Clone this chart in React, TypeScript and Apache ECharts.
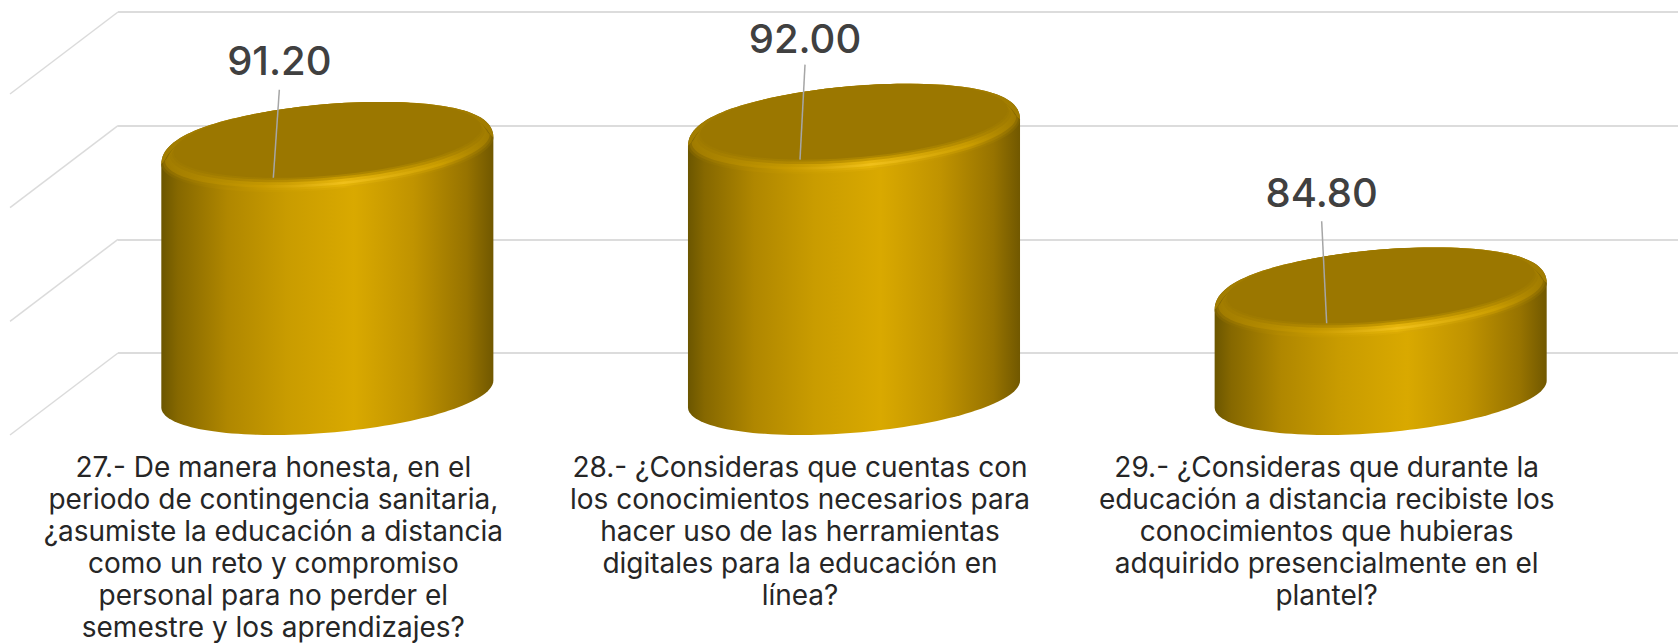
import React, { useEffect, useRef } from "react";
import * as echarts from "echarts";

const categories = [
  "27.- De manera honesta, en el\nperiodo de contingencia sanitaria,\n¿asumiste la educación a distancia\ncomo un reto y compromiso\npersonal para no perder el\nsemestre y los aprendizajes?",
  "28.- ¿Consideras que cuentas con\nlos conocimientos necesarios para\nhacer uso de las herramientas\ndigitales para la educación en\nlínea?",
  "29.- ¿Consideras que durante la\neducación a distancia recibiste los\nconocimientos que hubieras\nadquirido presencialmente en el\nplantel?",
];
const scores = [91.2, 92.0, 84.8];
const wallTicks = [80, 85, 90, 95];

// Value axis range shared by the floor plane and the back wall.
const AXIS_MIN = 80;
const AXIS_MAX = 95;
const AXIS_STEP = 5;

// Oblique projection: the back wall sits this far from the front plane.
const DEPTH_X = 108;
const DEPTH_Y = 82;
const PLANE_LEFT = 10;
const PLANE_WIDTH = 1580;
const PLANE_HEIGHT = 341;
const BACK_TOP = 12;

// Cylinder cross-section: a circle on the floor, sheared by the depth vector.
const RADIUS_X = 157;
const SHEAR_X = DEPTH_X / 2;
const SHEAR_Y = DEPTH_Y / 2;
const TOP_DROP = 3.5;
const SHOULDER = 8;
const FACE_LIFT = 3;
const FACE_SCALE = 0.925;

// Leader lines between each top face and its value label.
const leaderLean = [6, 5, -5];
const leaderRise = [88, 95, 102];
const labelGap = [29, 26, 29];

const TEXT_FONT = "Inter, 'Noto Sans', sans-serif";

type Pt = [number, number];

const ellipsePoint = (cx: number, cy: number, k: number, t: number): Pt => [
  cx + k * (RADIUS_X * Math.cos(t) + SHEAR_X * Math.sin(t)),
  cy - k * SHEAR_Y * Math.sin(t),
];

// Angles of the left and right silhouette tangents of the sheared circle.
const T_RIGHT = Math.atan2(SHEAR_X, RADIUS_X);
const T_LEFT = T_RIGHT + Math.PI;
const T_RIGHT_WRAP = T_RIGHT + Math.PI * 2;

const arc = (cx: number, cy: number, k: number, from: number, to: number, n = 72): Pt[] => {
  const pts: Pt[] = [];
  for (let i = 0; i <= n; i++) {
    pts.push(ellipsePoint(cx, cy, k, from + ((to - from) * i) / n));
  }
  return pts;
};

// Rear half of a rounded rim: meets the side edges at (cy + drop, k) and eases to (cy, kBack).
const rearArc = (cx: number, cy: number, k: number, kBack: number, drop: number, n = 72): Pt[] => {
  const pts: Pt[] = [];
  for (let i = 0; i <= n; i++) {
    const t = T_RIGHT + (Math.PI * i) / n;
    const s = Math.sin(t - T_RIGHT);
    const [x, y] = ellipsePoint(cx, cy, k + (kBack - k) * Math.sqrt(s), t);
    pts.push([x, y + drop * Math.pow(1 - s, 3)]);
  }
  return pts;
};

const grad = (x2: number, y2: number, stops: [number, string][]) =>
  new echarts.graphic.LinearGradient(
    0,
    0,
    x2,
    y2,
    stops.map(([offset, color]) => ({ offset, color })),
  );

const bodyStops: [number, string][] = [
  [0, "#6b5600"],
  [0.05, "#866800"],
  [0.2, "#b08700"],
  [0.38, "#c99c00"],
  [0.58, "#d9a900"],
  [0.76, "#c09300"],
  [0.92, "#977300"],
  [1, "#715800"],
];

// Rounded rim, from the body edge inward: lit in the middle, darker at both sides.
const rimBands: { t: number; stops: [number, string][] }[] = [
  {
    t: 0,
    stops: [
      [0, "#7c6100"],
      [0.2, "#b48a00"],
      [0.38, "#cb9e00"],
      [0.55, "#dcab04"],
      [0.76, "#c29500"],
      [0.92, "#9c7800"],
      [1, "#7c6100"],
    ],
  },
  {
    t: 0.14,
    stops: [
      [0, "#8c6c00"],
      [0.3, "#c59800"],
      [0.55, "#e4b408"],
      [0.85, "#bd9100"],
      [1, "#8c6c00"],
    ],
  },
  {
    t: 0.3,
    stops: [
      [0, "#a07b00"],
      [0.3, "#c99b00"],
      [0.55, "#f0c01a"],
      [0.85, "#cc9e00"],
      [1, "#a07b00"],
    ],
  },
  {
    t: 0.48,
    stops: [
      [0, "#a27d00"],
      [0.3, "#c39700"],
      [0.55, "#e6b50c"],
      [0.85, "#c69900"],
      [1, "#a27d00"],
    ],
  },
  {
    t: 0.68,
    stops: [
      [0, "#a07b00"],
      [0.3, "#b18800"],
      [0.55, "#c89b00"],
      [0.85, "#b38a00"],
      [1, "#a07b00"],
    ],
  },
  {
    t: 0.86,
    stops: [
      [0, "#9d7900"],
      [0.3, "#a37e00"],
      [0.55, "#ac8500"],
      [0.85, "#a58000"],
      [1, "#9d7900"],
    ],
  },
];

function renderCylinder(params: any, api: any) {
  const i = params.dataIndex;
  const value = api.value(1);
  const top = api.coord([i, value]);
  const base = api.coord([i, AXIS_MIN]);
  const cx = top[0] + SHEAR_X;
  const cyTop = top[1] - SHEAR_Y + TOP_DROP;
  const cyBase = base[1] - SHEAR_Y;

  const body = [
    ...rearArc(cx, cyTop, 1, 1, SHOULDER),
    ...arc(cx, cyBase, 1, T_LEFT, T_RIGHT_WRAP),
  ];
  // Back of the cap, just outside the flat face; the front is covered by the rim bands.
  const cap = [
    ...rearArc(cx, cyTop, 1, 1, SHOULDER),
    ...arc(cx, cyTop, FACE_SCALE, T_LEFT, T_RIGHT_WRAP),
  ];
  const faceY = cyTop - FACE_LIFT;
  const face = arc(cx, faceY, FACE_SCALE, 0, Math.PI * 2, 144);

  // Stacked front crescents that step from the body edge to the flat face.
  const rims = rimBands.map((band) => {
    const k = 1 - (1 - FACE_SCALE) * band.t;
    const drop = SHOULDER - (SHOULDER + FACE_LIFT) * band.t;
    return {
      type: "polygon",
      shape: {
        points: [
          ...rearArc(cx, cyTop, k, FACE_SCALE, drop),
          ...arc(cx, cyTop + drop, k, T_LEFT, T_RIGHT_WRAP),
        ],
      },
      style: { fill: grad(1, 0, band.stops) },
    };
  });

  const tip: Pt = [cx - SHEAR_X, faceY + FACE_SCALE * SHEAR_Y];
  const lead: Pt = [tip[0] + leaderLean[i], tip[1] - leaderRise[i]];

  return {
    type: "group",
    children: [
      { type: "polygon", shape: { points: body }, style: { fill: grad(1, 0, bodyStops) } },
      { type: "polygon", shape: { points: cap }, style: { fill: "#a27d00" } },
      ...rims,
      { type: "polygon", shape: { points: face }, style: { fill: "#9b7700" } },
      {
        type: "line",
        shape: { x1: tip[0], y1: tip[1], x2: lead[0], y2: lead[1] },
        style: { stroke: "#a6a6a6", lineWidth: 1.5 },
      },
      {
        type: "text",
        style: {
          x: lead[0],
          y: lead[1] - labelGap[i],
          text: value.toFixed(2),
          fill: "#404040",
          font: `500 40px ${TEXT_FONT}`,
          textAlign: "center",
          textVerticalAlign: "middle",
        },
      },
    ],
  };
}

// Slanted floor-to-wall lines running from the wall's left edge to the front plane.
function renderSideWall(params: any, api: any) {
  const y = api.coord([0, api.value(0)])[1];
  const x = params.coordSys.x;
  return {
    type: "line",
    shape: { x1: x, y1: y, x2: x - DEPTH_X, y2: y + DEPTH_Y },
    style: { stroke: "#dbdbdb", lineWidth: 1.5 },
  };
}

export default function App() {
  const ref = useRef<HTMLDivElement>(null);

  useEffect(() => {
    const chart = echarts.init(ref.current!, undefined, { renderer: "svg" });
    chart.setOption({
      animation: false,
      backgroundColor: "#ffffff",
      grid: [
        {
          left: PLANE_LEFT,
          top: BACK_TOP + DEPTH_Y,
          width: PLANE_WIDTH,
          height: PLANE_HEIGHT,
          outerBoundsMode: "none",
        },
        {
          left: PLANE_LEFT + DEPTH_X,
          top: BACK_TOP,
          width: PLANE_WIDTH,
          height: PLANE_HEIGHT,
          outerBoundsMode: "none",
        },
      ],
      xAxis: [
        {
          gridIndex: 0,
          type: "category",
          data: categories,
          axisLine: { show: false },
          axisTick: { show: false },
          axisLabel: {
            interval: 0,
            margin: 16,
            color: "#262626",
            fontFamily: TEXT_FONT,
            fontSize: 28,
            lineHeight: 32,
            align: "center",
            verticalAlign: "top",
          },
        },
        {
          gridIndex: 1,
          type: "category",
          data: categories,
          axisLine: { show: false },
          axisTick: { show: false },
          axisLabel: { show: false },
        },
      ],
      yAxis: [
        {
          gridIndex: 0,
          type: "value",
          min: AXIS_MIN,
          max: AXIS_MAX,
          interval: AXIS_STEP,
          show: false,
        },
        {
          gridIndex: 1,
          type: "value",
          min: AXIS_MIN,
          max: AXIS_MAX,
          interval: AXIS_STEP,
          axisLine: { show: false },
          axisTick: { show: false },
          axisLabel: { show: false },
          splitLine: { show: true, lineStyle: { color: "#dcdcdc", width: 2 } },
        },
      ],
      series: [
        {
          type: "custom",
          name: "Pared",
          xAxisIndex: 1,
          yAxisIndex: 1,
          clip: false,
          silent: true,
          encode: { y: 0 },
          data: wallTicks.map((t) => [t]),
          renderItem: renderSideWall,
          z: 1,
        },
        {
          type: "custom",
          name: "Promedio",
          xAxisIndex: 0,
          yAxisIndex: 0,
          clip: false,
          encode: { x: 0, y: 1 },
          data: scores.map((v, i) => [i, v]),
          renderItem: renderCylinder,
          z: 5,
        },
      ],
    });
    return () => chart.dispose();
  }, []);

  return (
    <div
      ref={ref}
      style={{ position: "fixed", left: 0, top: 0, width: 1678, height: 644 }}
    />
  );
}
